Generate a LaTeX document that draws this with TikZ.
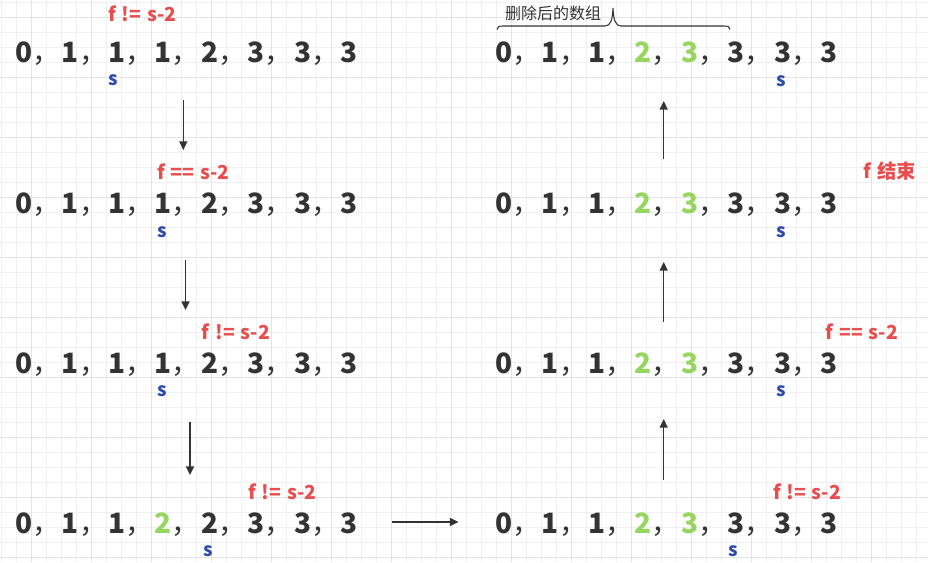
\documentclass[tikz,border=0pt]{standalone}
\usepackage{fontspec}
\setmainfont{Noto Sans CJK SC}
\usetikzlibrary{arrows.meta}
\definecolor{ink}{HTML}{333333}
\definecolor{hgreen}{HTML}{97D65E}
\definecolor{hred}{HTML}{EA4D4D}
\definecolor{hblue}{HTML}{2F4DA8}
\definecolor{gminor}{HTML}{F0F0F0}
\definecolor{gmajor}{HTML}{E4E4E4}
\newlength\cw \setlength\cw{34.82pt}
\newcommand{\cel}[1]{\makebox[\cw][l]{#1{\mdseries ，}}}
\newcommand{\gd}[1]{\textcolor{hgreen}{#1}}
\newcommand{\wsp}{\hspace{0.3em}}
\tikzset{
  numrow/.style={inner sep=0pt, anchor=base west, text=ink, font=\fontsize{21pt}{21pt}\selectfont\bfseries},
  cond/.style={inner sep=0pt, text=hred, font=\fontsize{14.5pt}{14.5pt}\selectfont\bfseries},
  ptr/.style={inner sep=0pt, text=hblue, font=\fontsize{14pt}{14pt}\selectfont\bfseries},
  flow/.style={draw=ink, line width=1.1pt, -{Triangle[length=6.5pt,width=6pt]}},
}
\begin{document}
\begin{tikzpicture}[x=0.75pt,y=-0.75pt]
\useasboundingbox (0,0) rectangle (928,562);
\fill[white] (0,0) rectangle (928,562);
% grid
\foreach \x in {1,16,...,928} \draw[gminor, line width=0.75pt] (\x,0) -- (\x,562);
\foreach \y in {2.7,17.7,...,562} \draw[gminor, line width=0.75pt] (0,\y) -- (928,\y);
\foreach \x in {31,91,...,928} \draw[gmajor, line width=0.75pt] (\x,0) -- (\x,562);
\foreach \y in {17.7,77.7,...,562} \draw[gmajor, line width=0.75pt] (0,\y) -- (928,\y);

% left column rows
\node[numrow] (l1) at (15.3,62.3) {\cel{0}\cel{1}\cel{1}\cel{1}\cel{2}\cel{3}\cel{3}3};
\node[numrow] (l2) at (15.3,213.8) {\cel{0}\cel{1}\cel{1}\cel{1}\cel{2}\cel{3}\cel{3}3};
\node[numrow] (l3) at (15.3,373.8) {\cel{0}\cel{1}\cel{1}\cel{1}\cel{2}\cel{3}\cel{3}3};
\node[numrow] (l4) at (15.3,533.0) {\cel{0}\cel{1}\cel{1}\cel{\gd{2}}\cel{2}\cel{3}\cel{3}3};
% right column rows
\node[numrow] (r1) at (495.3,62.3) {\cel{0}\cel{1}\cel{1}\cel{\gd{2}}\cel{\gd{3}}\cel{3}\cel{3}3};
\node[numrow] (r2) at (495.3,213.8) {\cel{0}\cel{1}\cel{1}\cel{\gd{2}}\cel{\gd{3}}\cel{3}\cel{3}3};
\node[numrow] (r3) at (495.3,373.8) {\cel{0}\cel{1}\cel{1}\cel{\gd{2}}\cel{\gd{3}}\cel{3}\cel{3}3};
\node[numrow] (r4) at (495.3,533.0) {\cel{0}\cel{1}\cel{1}\cel{\gd{2}}\cel{\gd{3}}\cel{3}\cel{3}3};

% condition labels
\node[cond] (c1) at (142.5,14) {f\wsp{}!=\wsp{}s-2};
\node[cond] (c2) at (193.3,171.5) {f\wsp{}==\wsp{}s-2};
\node[cond] (c3) at (236,331.5) {f\wsp{}!=\wsp{}s-2};
\node[cond] (c4) at (282.5,492) {f\wsp{}!=\wsp{}s-2};
\node[cond] (c5) at (890,171.5) {f\wsp{}结束};
\node[cond] (c6) at (862,331.5) {f\wsp{}==\wsp{}s-2};
\node[cond] (c7) at (807,491.5) {f\wsp{}!=\wsp{}s-2};

% s pointers
\node[ptr] (s1) at (113.3,80.5) {s};
\node[ptr] (s2) at (162.3,232) {s};
\node[ptr] (s3) at (161.8,391.5) {s};
\node[ptr] (s4) at (208,551.5) {s};
\node[ptr] (s5) at (781.7,81) {s};
\node[ptr] (s6) at (781.7,232) {s};
\node[ptr] (s7) at (781.3,391.5) {s};
\node[ptr] (s8) at (733.5,551.5) {s};

% brace and caption
\node[inner sep=0pt, text=ink, font=\fontsize{12pt}{12pt}\selectfont] (cap) at (553,13) {删除后的数组};
\draw[ink, line width=0.8pt] (497,29.5) .. controls (497,26.8) and (499,26) .. (503,26) -- (605,26)
  .. controls (610.5,26) and (612.5,20) .. (613,8)
  .. controls (613.5,20) and (615.5,26) .. (621,26) -- (724,26)
  .. controls (728,26) and (730,26.8) .. (730,29.5);

% arrow endpoints
\coordinate (a1s) at (183.3,100); \coordinate (a1e) at (183.3,150);
\coordinate (a2s) at (185.5,260); \coordinate (a2e) at (185.5,310);
\coordinate (a3s) at (190,422);   \coordinate (a3e) at (190,475);
\coordinate (hs) at (392,522);    \coordinate (he) at (458.5,522);
\coordinate (b1s) at (663.7,480); \coordinate (b1e) at (663.7,419);
\coordinate (b2s) at (663.7,322); \coordinate (b2e) at (663.7,262);
\coordinate (b3s) at (663.7,159.3); \coordinate (b3e) at (663.7,101);

\draw[flow] (a1s) -- (a1e);
\draw[flow] (a2s) -- (a2e);
\draw[flow] (a3s) -- (a3e);
\draw[flow] (hs) -- (he);
\draw[flow] (b1s) -- (b1e);
\draw[flow] (b2s) -- (b2e);
\draw[flow] (b3s) -- (b3e);
\end{tikzpicture}
\end{document}
